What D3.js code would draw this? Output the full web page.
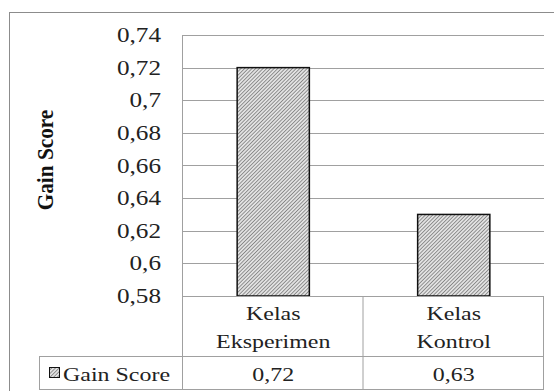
<!DOCTYPE html>
<html>
<head>
<meta charset="utf-8">
<script src="https://cdn.jsdelivr.net/npm/d3@7"></script>
<style>
  body { margin: 0; background: #fff; }
  svg text { font-family: "Liberation Serif", "Times New Roman", serif; fill: #222; }
</style>
</head>
<body>
<svg id="chart"></svg>
<script>
// chart data
const categories = [["Kelas", "Eksperimen"], ["Kelas", "Kontrol"]];
const gainScores = [0.72, 0.63];
const valueLabels = ["0,72", "0,63"];
const yTicks = [0.58, 0.6, 0.62, 0.64, 0.66, 0.68, 0.7, 0.72, 0.74];
const seriesName = "Gain Score";
const yTitle = "Gain Score";

const width = 554, height = 391;
const plot = {left: 183, right: 544, top: 35, bottom: 296};
const table = {legendLeft: 39, catBottom: 356, bottom: 389};
const stretch = 1.26; // glyphs in the source are wider than normal

const svg = d3.select('#chart')
    .attr('width', width)
    .attr('height', height);

// hatch pattern for the bars
const defs = svg.append('defs');
const pat = defs.append('pattern')
    .attr('id', 'hatch')
    .attr('patternUnits', 'userSpaceOnUse')
    .attr('width', 2.6)
    .attr('height', 2.6)
    .attr('patternTransform', 'rotate(45)');
pat.append('rect').attr('width', 2.6).attr('height', 2.6).attr('fill', '#e2e2e2');
pat.append('line')
    .attr('x1', 0).attr('y1', 0).attr('x2', 0).attr('y2', 2.6)
    .attr('stroke', '#505050').attr('stroke-width', 1.1);

// outer frame
svg.append('rect')
    .attr('x', 9.5).attr('y', 12.5)
    .attr('width', 560).attr('height', 400)
    .attr('fill', '#fff')
    .attr('stroke', '#8c8c8c');

const y = d3.scaleLinear().domain([0.58, 0.74]).range([plot.bottom, plot.top]);
const x = d3.scaleBand()
    .domain(d3.range(categories.length))
    .range([plot.left, plot.right])
    .paddingInner(0.6)
    .paddingOuter(0.3);
const col = d3.scaleBand()
    .domain(d3.range(categories.length))
    .range([plot.left, plot.right]);

const fmt = v => String(+v.toFixed(2)).replace('.', ',');

function stretchedText(g, tx, ty, str, anchor, size, weight) {
    return g.append('text')
        .attr('transform', `translate(${tx},${ty}) scale(${stretch},1)`)
        .attr('text-anchor', anchor)
        .attr('font-size', size)
        .attr('font-weight', weight || 'normal')
        .text(str);
}

// gridlines
svg.append('g')
    .selectAll('line')
    .data(yTicks)
    .join('line')
    .attr('x1', plot.left).attr('x2', plot.right)
    .attr('y1', d => Math.round(y(d)) + 0.5)
    .attr('y2', d => Math.round(y(d)) + 0.5)
    .attr('stroke', '#a0a0a0');

// y axis line
svg.append('line')
    .attr('x1', plot.left - 0.5).attr('x2', plot.left - 0.5)
    .attr('y1', plot.top).attr('y2', plot.bottom)
    .attr('stroke', '#a0a0a0');

// y tick labels
const yLab = svg.append('g');
yTicks.forEach(t => stretchedText(yLab, 161, y(t) + 7, fmt(t), 'end', 20));

// y axis title
svg.append('text')
    .attr('transform', `translate(53,160) rotate(-90) scale(1.12,${stretch})`)
    .attr('text-anchor', 'middle')
    .attr('font-size', 19)
    .attr('font-weight', 'bold')
    .style('fill', '#111')
    .text(yTitle);

// bars
svg.append('g')
    .selectAll('rect')
    .data(gainScores)
    .join('rect')
    .attr('x', (d, i) => x(i))
    .attr('y', d => y(d))
    .attr('width', x.bandwidth())
    .attr('height', d => y(0.58) - y(d))
    .attr('fill', 'url(#hatch)')
    .attr('stroke', '#111')
    .attr('stroke-width', 1.5);

// data table lines
const tl = svg.append('g').attr('stroke', '#a0a0a0').attr('fill', 'none');
tl.append('line').attr('x1', plot.left).attr('x2', plot.right)
    .attr('y1', plot.bottom + 0.5).attr('y2', plot.bottom + 0.5);
tl.append('line').attr('x1', table.legendLeft).attr('x2', plot.right)
    .attr('y1', table.catBottom + 0.5).attr('y2', table.catBottom + 0.5);
tl.append('line').attr('x1', table.legendLeft).attr('x2', plot.right)
    .attr('y1', table.bottom + 0.5).attr('y2', table.bottom + 0.5);
tl.append('line').attr('x1', table.legendLeft + 0.5).attr('x2', table.legendLeft + 0.5)
    .attr('y1', table.catBottom).attr('y2', table.bottom);
[plot.left, col(1), plot.right].forEach(xx => {
    tl.append('line').attr('x1', xx - 0.5).attr('x2', xx - 0.5)
        .attr('y1', plot.bottom).attr('y2', table.bottom);
});

// category labels and values
const tt = svg.append('g');
categories.forEach((c, i) => {
    const cx = col(i) + col.bandwidth() / 2;
    c.forEach((line, k) => stretchedText(tt, cx, 320 + k * 28, line, 'middle', 19));
    stretchedText(tt, cx, 381, valueLabels[i], 'middle', 19);
});

// legend key
svg.append('rect')
    .attr('x', 49.5).attr('y', 367.5)
    .attr('width', 10).attr('height', 10)
    .attr('fill', 'url(#hatch)')
    .attr('stroke', '#111');
stretchedText(svg, 63, 381, seriesName, 'start', 19);
</script>
</body>
</html>
